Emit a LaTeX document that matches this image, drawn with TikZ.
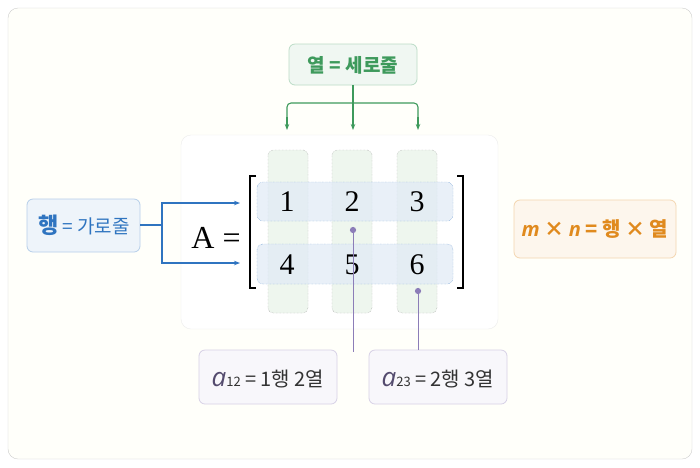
\documentclass[tikz,border=0pt]{standalone}
\usepackage{fontspec}
\setmainfont{Noto Sans CJK KR}
\newfontfamily\lmr{Liberation Serif}
\newfontfamily\osi{Open Sans}
\usetikzlibrary{arrows.meta}
\definecolor{gr}{HTML}{3E9A5C}
\definecolor{bl}{HTML}{2F74C0}
\definecolor{og}{HTML}{E08A1E}
\definecolor{pu}{HTML}{8C7DB8}
\begin{document}
\begin{tikzpicture}[x=1pt,y=-1pt,
 lbl/.style={draw=#1!35,fill=#1!8,rounded corners=6pt,line width=0.8pt},
 col/.style={draw=gray!80,densely dotted,fill=green!30!gray!10,rounded corners=5pt},
 row/.style={draw=bl!80,densely dotted,fill=bl!15,fill opacity=0.7,rounded corners=6pt},
 num/.style={font=\lmr\fontsize{30}{30}\selectfont},
 arr/.style={line width=1.1pt,-{Stealth[length=6pt]}},
 dot/.style={circle,fill=pu,inner sep=2.2pt}]
\useasboundingbox (0,0) rectangle (700,467);
\draw[fill=black!2!yellow!2,draw=gray!40,rounded corners=10pt] (8,8) rectangle (692,459);
\draw[fill=white,draw=gray!15,rounded corners=10pt] (181,135) rectangle (498,329);
\foreach \x in {268,332,397} \draw[col] (\x,150) rectangle (\x+40,313);
\draw[row] (257,182) rectangle (453,221);
\draw[row] (257,244) rectangle (453,284);
\node[num] (n1) at (287,202) {1}; \node[num] (n2) at (352,202) {2}; \node[num] (n3) at (417,202) {3};
\node[num] (n4) at (287,265) {4}; \node[num] (n5) at (352,265) {5}; \node[num] (n6) at (417,265) {6};
\draw[line width=2.2pt] (256,176) -- (250,176) -- (250,288) -- (256,288);
\draw[line width=2.2pt] (457,176) -- (463,176) -- (463,288) -- (457,288);
\node[font=\lmr\fontsize{32}{32}\selectfont] (A) at (216,238) {A =};
% top
\draw[lbl=gr] (289,44) rectangle (417,85);
\node[text=gr,font=\bfseries\fontsize{19}{19}\selectfont] (col) at (353,65) {열 = 세로줄};
\coordinate (ct) at (353,85);
\draw[gr,arr] (ct) -- (353,130);
\draw[gr,line width=1.1pt,rounded corners=4pt] (287,118) -- (287,103) -- (418,103) -- (418,118);
\draw[gr,arr] (287,117) -- (287,130);
\draw[gr,arr] (418,117) -- (418,130);
% left
\draw[lbl=bl] (27,199) rectangle (140,252);
\node[text=bl,font=\fontsize{19}{19}\selectfont] (row) at (84,225) {\textbf{\fontsize{22}{22}\selectfont 행} = 가로줄};
\draw[bl,line width=1.1pt] (140,225) -- (162,225);
\draw[bl,arr] (162,225) |- (240,203);
\draw[bl,arr] (162,225) |- (240,263);
% right
\draw[lbl=og] (514,200) rectangle (676,258);
\node[text=og,font=\bfseries\fontsize{20}{20}\selectfont] (mn) at (595,229) {{\osi\itshape m} × {\osi\itshape n} = 행 × 열};
% bottom
\draw[lbl=pu,fill=pu!6] (199,350) rectangle (337,404);
\draw[lbl=pu,fill=pu!6] (369,350) rectangle (507,404);
\node[font=\fontsize{20}{20}\selectfont,text=black!80] (b1) at (268,379) {\textcolor{pu!60!black}{\osi\itshape\fontsize{26}{26}\selectfont a}{\fontsize{13}{13}\selectfont 12} = 1행 2열};
\node[font=\fontsize{20}{20}\selectfont,text=black!80] (b2) at (438,379) {\textcolor{pu!60!black}{\osi\itshape\fontsize{26}{26}\selectfont a}{\fontsize{13}{13}\selectfont 23} = 2행 3열};
\node[dot] (d1) at (353,230) {}; \node[dot] (d2) at (418,291) {};
\draw[pu,line width=1pt] (d1) -- (353,352);
\draw[pu,line width=1pt] (d2) -- (418,350);
\end{tikzpicture}
\end{document}
